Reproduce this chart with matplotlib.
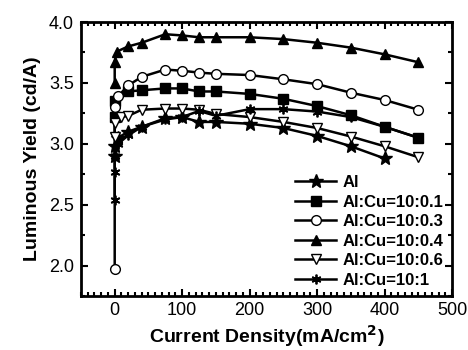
import matplotlib.pyplot as plt
from matplotlib.ticker import MultipleLocator

plt.rcParams['font.family'] = ['Liberation Sans', 'DejaVu Sans']

# current density (mA/cm^2) and luminous yield (cd/A) per cathode
x_al = [0, 0, 5, 20, 40, 75, 100, 125, 150, 200, 250, 300, 350, 400]
y_al = [2.90, 2.98, 3.05, 3.10, 3.14, 3.21, 3.22, 3.18, 3.18, 3.165, 3.13, 3.065, 2.98, 2.88]

x_01 = [0, 0, 20, 40, 75, 100, 125, 150, 200, 250, 300, 350, 400, 450]
y_01 = [3.22, 3.35, 3.43, 3.44, 3.455, 3.455, 3.43, 3.43, 3.41, 3.37, 3.31, 3.235, 3.14, 3.05]

x_03 = [0, 0, 5, 20, 40, 75, 100, 125, 150, 200, 250, 300, 350, 400, 450]
y_03 = [1.97, 3.30, 3.39, 3.48, 3.55, 3.61, 3.60, 3.585, 3.575, 3.565, 3.53, 3.49, 3.42, 3.36, 3.28]

x_04 = [0, 0, 3, 20, 40, 75, 100, 125, 150, 200, 250, 300, 350, 400, 450]
y_04 = [3.50, 3.675, 3.757, 3.80, 3.83, 3.90, 3.89, 3.875, 3.875, 3.875, 3.86, 3.83, 3.79, 3.735, 3.67]

x_06 = [0, 0, 10, 20, 40, 75, 100, 125, 150, 200, 250, 300, 350, 400, 450]
y_06 = [3.06, 3.17, 3.22, 3.23, 3.28, 3.29, 3.29, 3.28, 3.245, 3.22, 3.18, 3.13, 3.06, 2.98, 2.89]

x_1 = [0, 0, 0, 5, 20, 40, 75, 100, 125, 150, 200, 250, 300, 350, 400, 450]
y_1 = [2.54, 2.77, 2.90, 3.00, 3.07, 3.14, 3.20, 3.22, 3.27, 3.23, 3.285, 3.285, 3.265, 3.22, 3.14, 3.05]

fig = plt.figure(figsize=(4.68, 3.5), dpi=100)
ax = fig.add_axes([0.173, 0.154, 0.793, 0.783])

kw = dict(color='black', lw=1.8, ms=7)
ax.plot(x_al, y_al, marker='*', ms=10, label='Al', color='black', lw=1.8)
ax.plot(x_01, y_01, marker='s', label='Al:Cu=10:0.1', **kw)
ax.plot(x_03, y_03, marker='o', mfc='white', label='Al:Cu=10:0.3', **kw)
ax.plot(x_04, y_04, marker='^', label='Al:Cu=10:0.4', **kw)
ax.plot(x_06, y_06, marker='v', mfc='white', label='Al:Cu=10:0.6', **kw)
ax.plot(x_1, y_1, marker=(6, 2, 0), mew=1.3, label='Al:Cu=10:1', **kw)

ax.set_xlim(-50, 500)
ax.set_ylim(1.75, 4.0)
ax.xaxis.set_major_locator(MultipleLocator(100))
ax.xaxis.set_minor_locator(MultipleLocator(10))
ax.yaxis.set_major_locator(MultipleLocator(0.5))
ax.yaxis.set_minor_locator(MultipleLocator(0.25))
ax.tick_params(which='both', direction='in', top=True, right=True, labelsize=13, width=1.5)
ax.tick_params(which='major', length=5, pad=5)
ax.tick_params(axis='x', which='major', pad=4)
ax.tick_params(which='minor', length=3)
ax.set_yticks([2.0, 2.5, 3.0, 3.5, 4.0])
ax.set_yticklabels(['2.0', '2.5', '3.0', '3.5', '4.0'])
for s in ax.spines.values():
    s.set_linewidth(2)

ax.set_xlabel(r'Current Density(mA/cm$^\mathbf{2}$)', fontsize=14, fontweight='bold', va='center')
ax.xaxis.set_label_coords(0.5, -0.145)
ax.set_ylabel('Luminous Yield (cd/A)', fontsize=14, fontweight='bold', labelpad=6)

leg = ax.legend(loc='lower right', frameon=False, prop={'weight': 'bold', 'size': 12},
                handlelength=2.45, handletextpad=0.4, labelspacing=0.27,
                borderaxespad=0.2, borderpad=0.3)

plt.savefig('out.png', dpi=100)
